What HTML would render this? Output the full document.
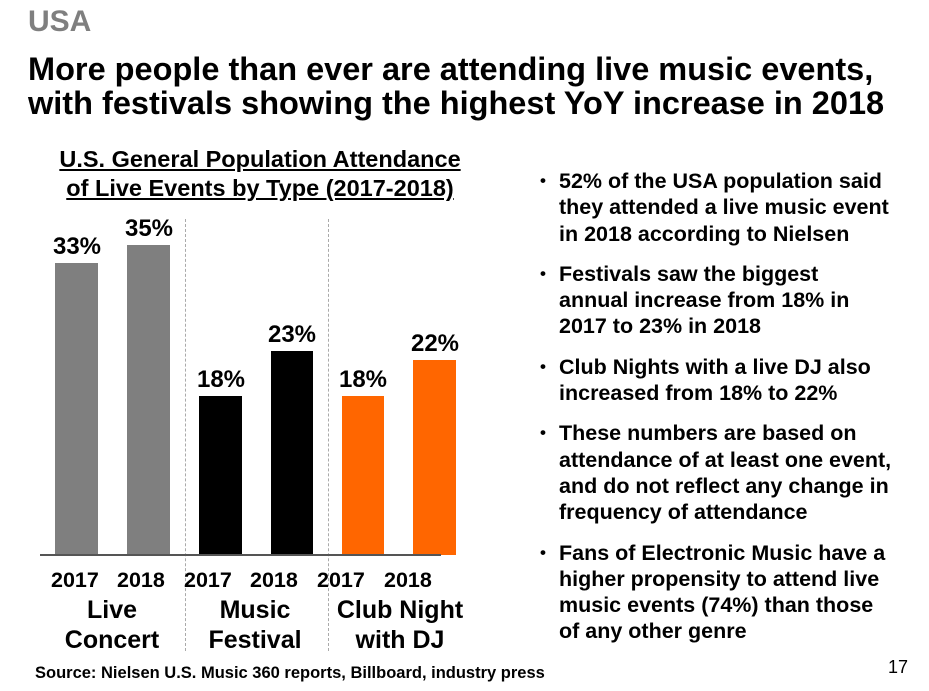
<!DOCTYPE html>
<html><head><meta charset="utf-8"><style>
body{margin:0;width:929px;height:691px;background:#fff;font-family:"Liberation Sans",Arial,sans-serif;font-weight:bold;position:relative;overflow:hidden;color:#000}
.a{position:absolute;white-space:nowrap}
.bar{position:absolute}
.v{position:absolute;font-size:24px;width:80px;text-align:center}
.y{position:absolute;font-size:21.5px;top:568px}
.c{position:absolute;font-size:25px;text-align:center;line-height:30px;width:150px;top:595px}
.dash{position:absolute;top:219px;height:432px;border-left:1px dashed #aaa}
ul{position:absolute;left:540px;top:168px;margin:0;padding:0;list-style:none;font-size:21.5px;line-height:26.3px}
li{position:relative;padding-left:19px;margin-bottom:14px;white-space:nowrap}
li:before{content:"•";position:absolute;left:0;font-size:17px}
</style></head><body>
<div class="a" style="left:28px;top:5px;font-size:30px;color:#7f7f7f">USA</div>
<div class="a" style="left:28px;top:52px;font-size:32.5px;line-height:34px">More people than ever are attending live music events,<br>with festivals showing the highest YoY increase in 2018</div>
<div class="a" style="left:30px;top:145px;width:460px;text-align:center;font-size:23.5px;line-height:29px;text-decoration:underline">U.S. General Population Attendance<br>of Live Events by Type (2017-2018)</div>
<div class="dash" style="left:185px"></div>
<div class="dash" style="left:328px"></div>
<div class="bar" style="left:55px;top:263px;width:43px;height:292px;background:#7f7f7f"></div>
<div class="bar" style="left:127px;top:245px;width:43px;height:310px;background:#7f7f7f"></div>
<div class="bar" style="left:199px;top:396px;width:43px;height:159px;background:#000"></div>
<div class="bar" style="left:271px;top:351px;width:42px;height:204px;background:#000"></div>
<div class="bar" style="left:342px;top:396px;width:42px;height:159px;background:#ff6600"></div>
<div class="bar" style="left:413px;top:360px;width:43px;height:195px;background:#ff6600"></div>
<div class="bar" style="left:40px;top:554px;width:401px;height:2px;background:#555"></div>
<div class="v" style="left:37px;top:233px">33%</div>
<div class="v" style="left:109px;top:215px">35%</div>
<div class="v" style="left:181px;top:366px">18%</div>
<div class="v" style="left:252px;top:321px">23%</div>
<div class="v" style="left:323px;top:366px">18%</div>
<div class="v" style="left:395px;top:330px">22%</div>
<div class="y" style="left:51px">2017</div><div class="y" style="left:117px">2018</div>
<div class="y" style="left:184px">2017</div><div class="y" style="left:250px">2018</div>
<div class="y" style="left:317px">2017</div><div class="y" style="left:384px">2018</div>
<div class="c" style="left:37px">Live<br>Concert</div>
<div class="c" style="left:180px">Music<br>Festival</div>
<div class="c" style="left:325px">Club Night<br>with DJ</div>
<div class="a" style="left:35px;top:664px;font-size:16.5px">Source: Nielsen U.S. Music 360 reports, Billboard, industry press</div>
<div class="a" style="left:888px;top:657px;font-size:18px;font-weight:normal">17</div>
<ul>
<li>52% of the USA population said<br>they attended a live music event<br>in 2018 according to Nielsen</li>
<li>Festivals saw the biggest<br>annual increase from 18% in<br>2017 to 23% in 2018</li>
<li>Club Nights with a live DJ also<br>increased from 18% to 22%</li>
<li>These numbers are based on<br>attendance of at least one event,<br>and do not reflect any change in<br>frequency of attendance</li>
<li>Fans of Electronic Music have a<br>higher propensity to attend live<br>music events (74%) than those<br>of any other genre</li>
</ul>
</body></html>
